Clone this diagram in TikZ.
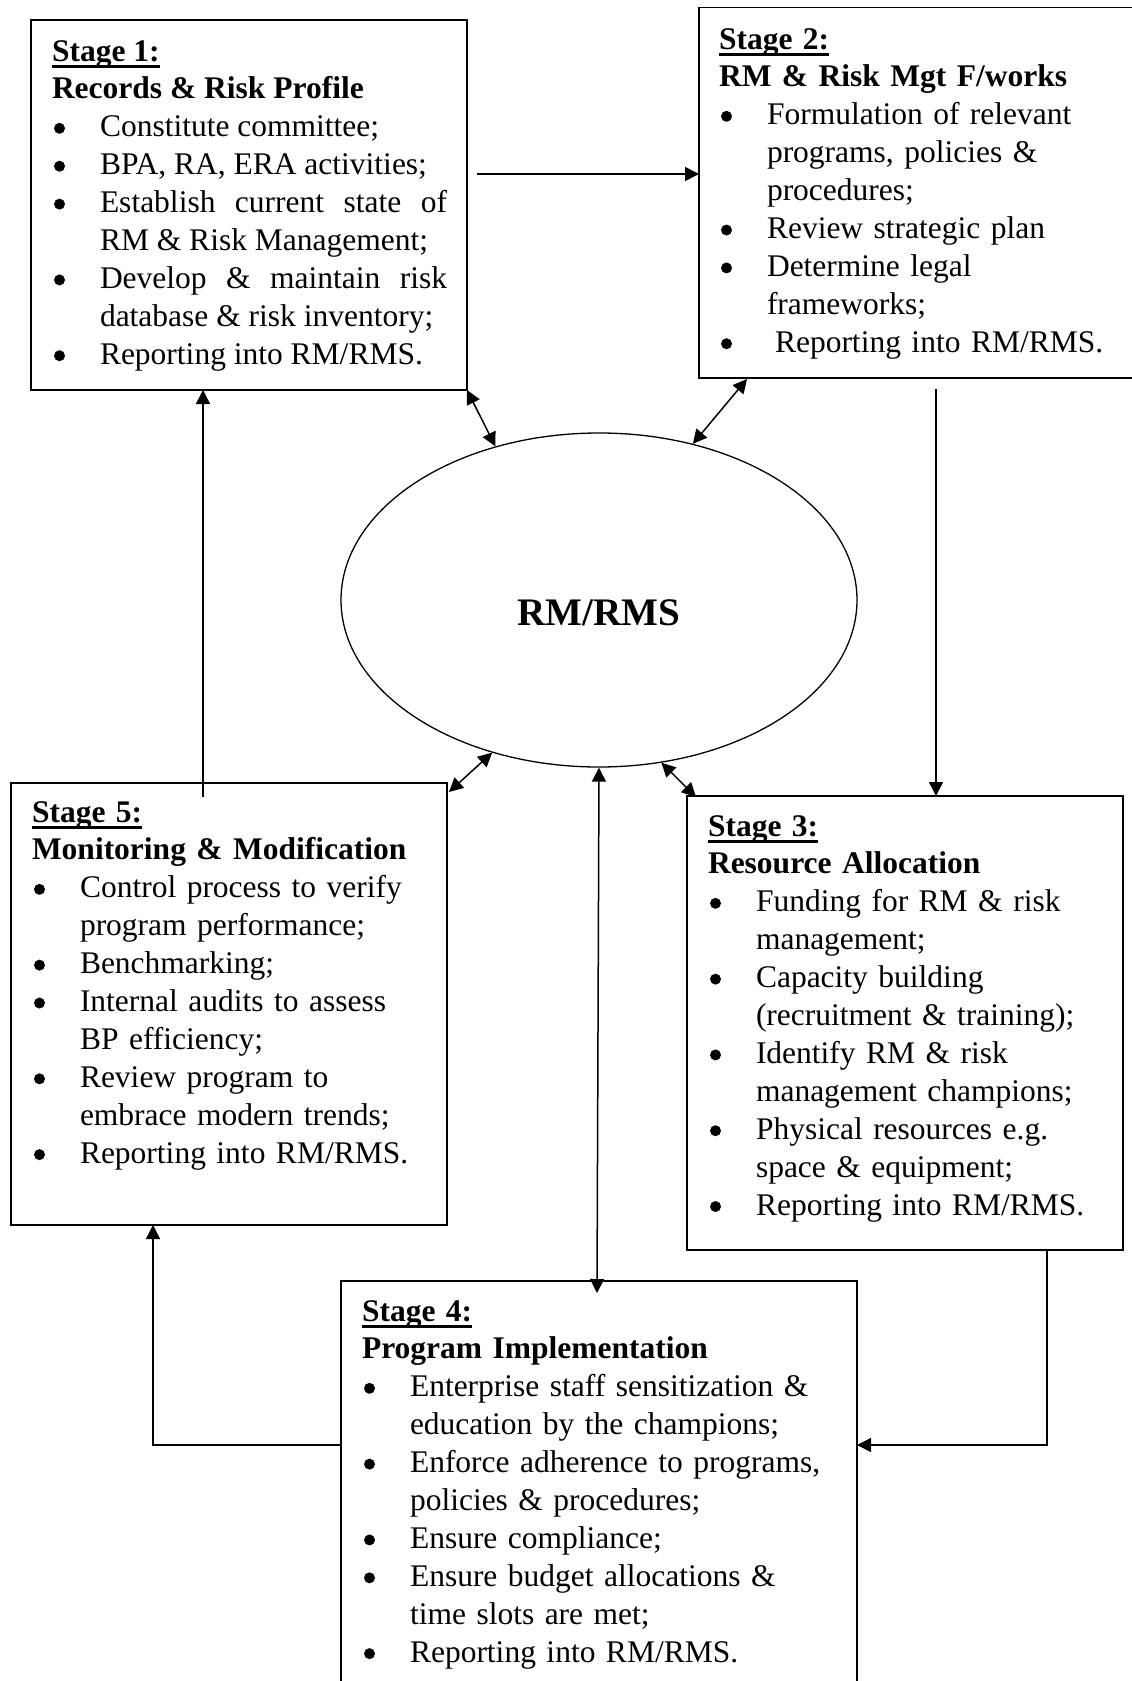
\documentclass[tikz,border=0pt]{standalone}
\usepackage{fontspec}
\setmainfont{Liberation Serif}
\usetikzlibrary{arrows.meta,shapes.geometric}
\newcommand\stgul[1]{\setbox0\hbox{#1}\rlap{\rule[-6.5pt]{\wd0}{2.6pt}}\box0}
\newcommand\bdot{\hspace{2pt}\tikz[x=1pt,y=1pt,baseline=0pt]\fill (5.5,8.5) circle (5.5);}
\newcommand\bitem{\par\hangindent=48pt\hangafter=1\noindent\makebox[48pt][l]{\bdot}}
\newcommand\stagehead[2]{\hyphenpenalty=10000 \hbadness=10000 \noindent\strut\stgul{\textbf{#1}}\par\noindent\textbf{#2}}
\tikzset{
  stagebox/.style={draw, line width=1.6pt, rectangle, inner sep=0pt, outer sep=0pt, anchor=north west},
  txt/.style={anchor=north west, inner sep=0pt, outer sep=0pt,
    font=\fontsize{31.5}{37.9}\selectfont},
  arr/.style={line width=1.5pt, -{Triangle[length=14pt,width=14pt]}},
  darr/.style={line width=1.5pt, {Triangle[length=14pt,width=14pt]}-{Triangle[length=14pt,width=14pt]}}
}
\begin{document}
\begin{tikzpicture}[x=1pt,y=-1pt]
\useasboundingbox (0,0) rectangle (1132,1681);
\fill[white] (0,0) rectangle (1132,1681);
\clip (0,0) rectangle (1132,1681);

% boxes
\node[stagebox, minimum width=436pt, minimum height=370pt] (b1) at (31,20) {};
\node[stagebox, minimum width=440pt, minimum height=370.5pt] (b2) at (699,7.5) {};
\node[stagebox, minimum width=436pt, minimum height=442pt] (b5) at (11,783) {};
\node[stagebox, minimum width=436pt, minimum height=454pt] (b3) at (687,796) {};
\node[stagebox, minimum width=516pt, minimum height=430pt] (b4) at (341,1281) {};

% ellipse
\node[draw, ellipse, line width=1.3pt, minimum width=516pt, minimum height=334pt, inner sep=0pt] (ell) at (599,600) {};
\node[font=\fontsize{39}{47}\selectfont\bfseries, anchor=base, inner sep=0pt] (lbl) at (598.5,625) {RM/RMS};

% texts
\node[txt, text width=395pt, align=justify] (t1) at (52,34.5) {\stagehead{Stage 1:}{Records \& Risk Profile}
\bitem Constitute committee;
\bitem BPA, RA, ERA activities;
\bitem Establish current state of\linebreak RM \& Risk Management;
\bitem Develop \& maintain risk\linebreak database \& risk inventory;
\bitem Reporting into RM/RMS.};

\node[txt, text width=470pt] (t2) at (719,22.5) {\stagehead{Stage 2:}{RM \& Risk Mgt F/works}
\bitem Formulation of relevant\newline programs, policies \&\newline procedures;
\bitem Review strategic plan
\bitem Determine legal\newline frameworks;
\bitem \hspace{8pt}Reporting into RM/RMS.};

\node[txt, text width=470pt] (t5) at (32,795.5) {\stagehead{Stage 5:}{Monitoring \& Modification}
\bitem Control process to verify\newline program performance;
\bitem Benchmarking;
\bitem Internal audits to assess\newline BP efficiency;
\bitem Review program to\newline embrace modern trends;
\bitem Reporting into RM/RMS.};

\node[txt, text width=470pt] (t3) at (708,809.5) {\stagehead{Stage 3:}{Resource Allocation}
\bitem Funding for RM \& risk\newline management;
\bitem Capacity building\newline (recruitment \& training);
\bitem Identify RM \& risk\newline management champions;
\bitem Physical resources e.g.\newline space \& equipment;
\bitem Reporting into RM/RMS.};

\node[txt, text width=470pt] (t4) at (362,1294.5) {\stagehead{Stage 4:}{Program Implementation}
\bitem Enterprise staff sensitization \&\newline education by the champions;
\bitem Enforce adherence to programs,\newline policies \& procedures;
\bitem Ensure compliance;
\bitem Ensure budget allocations \&\newline time slots are met;
\bitem Reporting into RM/RMS.};

% cycle connectors
\coordinate (a12) at (477,174);
\draw[arr] (a12) -- (a12 -| b2.west);
\coordinate (a23) at (936,389);
\draw[arr] (a23) -- (a23 |- b3.north);
\coordinate (m34) at (1047,1445);
\draw[arr] (b3.south -| m34) -- (m34) -- (m34 -| b4.east);
\coordinate (m45) at (153,1445);
\draw[arr] (m45 -| b4.west) -- (m45) -- (m45 |- b5.south);
\coordinate (a51) at (203,797);
\draw[arr] (a51) -- (a51 |- b1.south);

% links with RM/RMS
\coordinate (d2) at (747,379);
\coordinate (d5) at (449,792);
\coordinate (d3) at (696,797);
\coordinate (d4) at (597,1293);
\draw[darr] (b1.south east) -- (ell.124.4);
\draw[darr] (ell.59.4) -- (d2);
\draw[darr] (ell.235.6) -- (d5);
\draw[darr] (ell.291) -- (d3);
\draw[darr] (ell.south) -- (d4);
\end{tikzpicture}
\end{document}
